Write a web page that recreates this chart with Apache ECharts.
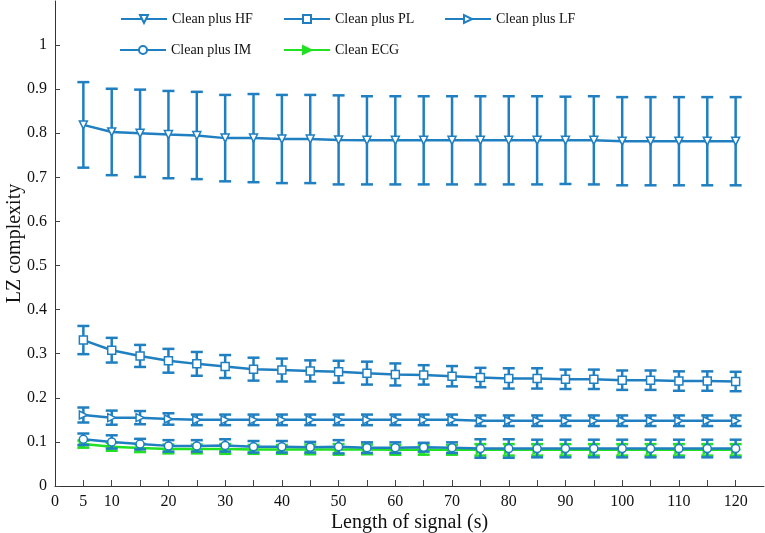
<!DOCTYPE html>
<html><head><meta charset="utf-8">
<script src="https://cdn.jsdelivr.net/npm/echarts@6/dist/echarts.min.js"></script>
<style>html,body{margin:0;padding:0;background:#fff}#c{width:765px;height:533px}</style>
</head><body><div id="c"></div>
<script>
const xValues = [5,10,15,20,25,30,35,40,45,50,55,60,65,70,75,80,85,90,95,100,105,110,115,120];
const xTickValues = [5,10,15,20,25,30,35,40,45,50,55,60,65,70,75,80,85,90,95,100,105,110,115,120];
const xLabelValues = [0,5,10,20,30,40,50,60,70,80,90,100,110,120];
const yLabelValues = [0,0.1,0.2,0.3,0.4,0.5,0.6,0.7,0.8,0.9,1];

const hfMean = [0.819,0.803,0.800,0.797,0.795,0.789,0.789,0.787,0.787,0.785,0.784,0.784,0.784,0.784,0.784,0.784,0.784,0.784,0.784,0.782,0.782,0.782,0.782,0.782];
const hfErr  = [0.097,0.098,0.099,0.099,0.099,0.098,0.100,0.100,0.100,0.101,0.100,0.100,0.100,0.100,0.100,0.100,0.100,0.099,0.100,0.100,0.100,0.100,0.100,0.100];
const plMean = [0.331,0.308,0.295,0.284,0.277,0.271,0.265,0.263,0.261,0.259,0.256,0.253,0.252,0.249,0.246,0.244,0.244,0.242,0.242,0.240,0.240,0.238,0.238,0.237];
const plErr  = [0.032,0.028,0.025,0.027,0.027,0.026,0.026,0.026,0.024,0.025,0.026,0.025,0.022,0.023,0.022,0.023,0.023,0.022,0.022,0.022,0.022,0.022,0.022,0.022];
const lfMean = [0.161,0.155,0.155,0.152,0.150,0.150,0.150,0.150,0.150,0.150,0.150,0.150,0.150,0.150,0.148,0.148,0.148,0.148,0.148,0.148,0.148,0.148,0.148,0.148];
const lfErr  = [0.017,0.016,0.015,0.013,0.012,0.012,0.012,0.012,0.012,0.012,0.012,0.012,0.012,0.012,0.012,0.012,0.012,0.012,0.012,0.012,0.012,0.012,0.012,0.012];
const imMean = [0.106,0.100,0.095,0.091,0.091,0.092,0.089,0.089,0.088,0.089,0.087,0.087,0.088,0.087,0.085,0.085,0.085,0.085,0.085,0.085,0.085,0.085,0.085,0.085];
const imErr  = [0.013,0.015,0.012,0.013,0.013,0.014,0.013,0.013,0.012,0.015,0.012,0.012,0.010,0.012,0.021,0.021,0.020,0.020,0.020,0.020,0.020,0.020,0.020,0.020];
const ecgMean = [0.095,0.089,0.086,0.084,0.084,0.084,0.083,0.083,0.083,0.083,0.083,0.082,0.082,0.082,0.082,0.082,0.082,0.082,0.082,0.082,0.082,0.082,0.082,0.082];
const ecgErr  = [0.008,0.009,0.009,0.010,0.010,0.011,0.010,0.010,0.011,0.012,0.011,0.011,0.011,0.011,0.013,0.013,0.013,0.013,0.013,0.013,0.013,0.013,0.013,0.013];

const BLUE = '#1f7fc1';
const GREEN = '#22e022';
const FONT = '"Liberation Serif","Times New Roman",serif';

function errData(mean, err){ return xValues.map((x,i)=>[x, mean[i]+err[i], mean[i]-err[i]]); }
function lineData(mean){ return xValues.map((x,i)=>[x, mean[i]]); }

function errSeries(name, mean, err, color, z){
  return {
    name: name + ' error', type: 'custom', z: z, silent: true,
    data: errData(mean, err),
    renderItem: function(params, api){
      const x = api.value(0);
      const top = api.coord([x, api.value(1)]);
      const bot = api.coord([x, api.value(2)]);
      const w = 6;
      const st = {stroke: color, lineWidth: 2.5, fill: null};
      return {type:'group', children:[
        {type:'line', shape:{x1:top[0],y1:top[1],x2:bot[0],y2:bot[1]}, style:st},
        {type:'line', shape:{x1:top[0]-w,y1:top[1],x2:top[0]+w,y2:top[1]}, style:st},
        {type:'line', shape:{x1:bot[0]-w,y1:bot[1],x2:bot[0]+w,y2:bot[1]}, style:st}
      ]};
    }
  };
}
function lineSeries(name, mean, color, symbol, rot, fill, z){
  return {
    name: name, type: 'line', z: z, data: lineData(mean),
    symbol: symbol, symbolSize: 8, symbolRotate: rot, showSymbol: true,
    color: color,
    lineStyle: {color: color, width: 2.5},
    itemStyle: {color: fill, borderColor: color, borderWidth: 1.5},
    animation: false
  };
}

const names = ['Clean plus HF','Clean plus PL','Clean plus LF','Clean plus IM','Clean ECG'];
const legendPos = [[120,12],[283,12],[444,12],[119,43],[283,43]];

const chart = echarts.init(document.getElementById('c'), null, {renderer:'canvas'});
chart.setOption({
  animation: false,
  backgroundColor: '#fff',
  textStyle: {fontFamily: FONT},
  grid: {left: 55, right: 1, top: 1, bottom: 47, containLabel: false, outerBoundsMode: 'none'},
  legend: names.map((n,i)=>({
    data: [n], left: legendPos[i][0], top: legendPos[i][1], padding: 0,
    itemWidth: 46, itemHeight: 10,
    textStyle: {fontFamily: FONT, fontSize: 14, color: '#111'},
    selectedMode: false
  })),
  xAxis: {
    type: 'value', min: 0, max: 125, interval: 5,
    name: 'Length of signal (s)', nameLocation: 'middle', nameGap: 27, nameMoveOverlap: false,
    nameTextStyle: {fontFamily: FONT, fontSize: 20, color: '#111'},
    axisLine: {lineStyle: {color: '#333', width: 1}},
    axisTick: {inside: true, length: 6, lineStyle: {color: '#444'}, customValues: xTickValues},
    axisLabel: {fontFamily: FONT, fontSize: 16, color: '#111', margin: 8, customValues: xLabelValues},
    splitLine: {show: false}
  },
  yAxis: {
    type: 'value', min: 0, max: 1.1, interval: 0.1,
    name: 'LZ complexity', nameLocation: 'middle', nameGap: 30, nameMoveOverlap: false,
    nameTextStyle: {fontFamily: FONT, fontSize: 20, color: '#111'},
    axisLine: {show: true, lineStyle: {color: '#333', width: 1}},
    axisTick: {show: true, inside: true, length: 5, lineStyle: {color: '#444'}, customValues: yLabelValues},
    axisLabel: {fontFamily: FONT, fontSize: 16, color: '#111', margin: 8, customValues: yLabelValues,
      formatter: v => String(Math.round(v*10)/10)},
    splitLine: {show: false}
  },
  series: [
    errSeries('Clean ECG', ecgMean, ecgErr, GREEN, 1),
    lineSeries('Clean ECG', ecgMean, GREEN, 'triangle', -90, GREEN, 2),
    errSeries('Clean plus HF', hfMean, hfErr, BLUE, 3),
    lineSeries('Clean plus HF', hfMean, BLUE, 'triangle', 180, '#fff', 4),
    errSeries('Clean plus PL', plMean, plErr, BLUE, 3),
    lineSeries('Clean plus PL', plMean, BLUE, 'rect', 0, '#fff', 4),
    errSeries('Clean plus LF', lfMean, lfErr, BLUE, 3),
    lineSeries('Clean plus LF', lfMean, BLUE, 'triangle', -90, '#fff', 4),
    errSeries('Clean plus IM', imMean, imErr, BLUE, 3),
    lineSeries('Clean plus IM', imMean, BLUE, 'circle', 0, '#fff', 4)
  ]
});
</script>
</body></html>
